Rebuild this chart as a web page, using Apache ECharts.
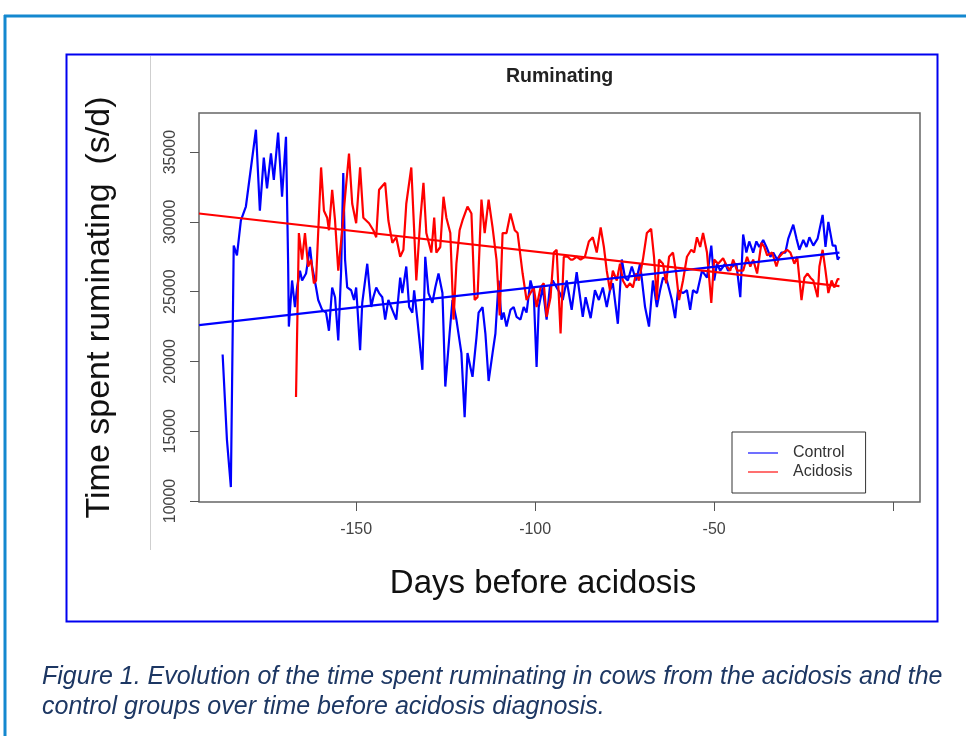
<!DOCTYPE html>
<html>
<head>
<meta charset="utf-8">
<script src="https://cdn.jsdelivr.net/npm/echarts@6/dist/echarts.min.js"></script>
<style>
  html, body { margin: 0; padding: 0; background: #fff; }
  #chart { width: 966px; height: 736px; }
</style>
</head>
<body>
<div id="chart"></div>
<script>
// 数据 (day, s/d)
var controlPoints = [
  [-187.3,20500],[-186.1,14400],[-185.0,11000],[-184.2,28300],[-183.3,27600],[-182.2,30100],[-180.8,31100],
  [-178.0,36600],[-176.9,30800],[-175.8,34600],[-174.9,32400],[-173.8,34900],[-173.0,33000],[-171.8,36400],
  [-170.7,31800],[-169.6,36100],[-169.0,27000],[-168.8,22500],[-167.9,25800],[-167.1,23900],[-166.5,25300],
  [-165.7,26500],[-165.1,25800],[-164.0,26300],[-162.9,28200],[-162.3,26800],[-161.2,25300],[-160.6,24400],
  [-159.5,23700],[-158.4,23500],[-157.6,22200],[-156.7,25300],[-155.9,24600],[-155.0,21500],[-154.2,26500],
  [-153.6,33500],[-153.1,27300],[-152.5,25300],[-151.4,25100],[-150.6,24400],[-150.0,25300],[-148.9,20800],
  [-148.3,24200],[-146.9,27000],[-145.8,23900],[-145.2,24600],[-144.4,25300],[-143.6,24900],[-142.7,24600],
  [-141.9,23000],[-141.0,24400],[-139.9,23700],[-138.8,23000],[-137.7,26000],[-137.1,24900],[-136.0,26800],
  [-135.2,23900],[-134.3,23500],[-133.8,25100],[-132.9,23000],[-131.5,19400],[-130.7,27500],[-129.8,24900],
  [-128.7,24200],[-127.9,25300],[-127.0,26300],[-125.9,24900],[-125.1,18200],[-123.9,22000],[-123.1,24400],
  [-122.0,23000],[-120.6,20600],[-119.7,16000],[-118.9,20600],[-118.1,19600],[-117.5,18900],[-116.4,21700],
  [-115.8,23500],[-114.7,23900],[-113.9,22000],[-113.0,18600],[-111.9,20600],[-111.1,22000],[-110.2,25800],
  [-109.4,23000],[-108.8,23500],[-108.0,22500],[-106.9,23700],[-106.0,23900],[-105.2,23200],[-104.1,23000],
  [-103.2,23900],[-102.4,23500],[-101.3,25800],[-100.4,24900],[-99.6,19600],[-99.0,23900],[-97.9,25300],
  [-96.8,23000],[-95.9,25300],[-95.1,25800],[-94.0,25300],[-93.1,24900],[-92.3,24400],[-91.2,25800],
  [-89.8,23700],[-88.4,26400],[-86.7,23200],[-85.9,24600],[-84.5,23100],[-83.3,25100],[-82.2,24400],
  [-81.1,25300],[-80.0,23900],[-79.1,25100],[-78.3,25600],[-76.9,22700],[-75.8,27300],[-74.9,26000],
  [-74.1,25800],[-73.0,26800],[-71.8,25800],[-70.7,27000],[-69.3,23900],[-68.2,22500],[-67.1,25800],
  [-66.0,23900],[-65.1,25100],[-64.3,26000],[-63.2,25800],[-61.8,24400],[-60.9,23100],[-60.1,25100],
  [-58.7,24900],[-57.6,25100],[-56.7,23700],[-55.9,25100],[-54.8,24900],[-53.4,26500],[-52.0,26000],
  [-50.8,28300],[-50.0,25800],[-49.2,27000],[-48.3,26500],[-46.9,27000],[-46.1,26500],[-45.0,26800],
  [-43.8,27000],[-42.7,24600],[-41.9,29100],[-41.0,27800],[-40.2,28600],[-39.1,27800],[-38.2,28600],
  [-37.4,28200],[-36.3,28700],[-35.4,28200],[-34.3,27500],[-33.5,27800],[-32.4,27300],[-31.2,27800],
  [-30.1,27800],[-29.3,28800],[-27.9,29800],[-27.0,28800],[-26.2,28000],[-25.1,28700],[-24.2,28200],
  [-23.4,28900],[-22.3,28300],[-21.1,28800],[-19.7,30500],[-18.9,28200],[-18.1,30000],[-16.9,28300],
  [-16.1,28300],[-15.5,27300],[-15.0,27500]
];

var acidosisPoints = [
  [-166.8,17450],[-166.0,29200],[-165.1,27300],[-164.3,29200],[-163.4,26800],[-162.6,27300],[-161.8,25600],
  [-161.2,25800],[-159.8,33900],[-159.0,30800],[-158.1,30300],[-157.6,29400],[-156.7,32300],[-155.9,30100],
  [-155.0,26500],[-153.9,29400],[-153.1,31800],[-152.0,34900],[-151.1,31300],[-150.0,29900],[-148.9,33900],
  [-148.0,30300],[-147.2,30100],[-146.4,29900],[-145.2,29400],[-144.4,28900],[-143.6,32300],[-141.9,32800],
  [-141.0,30100],[-139.9,28500],[-138.8,28900],[-137.7,27500],[-136.8,28000],[-136.0,31300],[-134.6,33900],
  [-133.8,29400],[-133.2,25800],[-132.1,30100],[-131.2,32800],[-130.4,29200],[-129.0,27800],[-128.2,30300],
  [-127.6,27800],[-126.5,28200],[-125.6,31800],[-124.8,30300],[-123.7,29200],[-122.8,23000],[-122.0,27000],
  [-121.1,29400],[-120.3,30100],[-118.9,31100],[-117.8,30600],[-116.9,24400],[-116.1,24600],[-115.0,31600],
  [-114.1,29200],[-113.0,31600],[-111.9,29600],[-110.8,27300],[-109.9,23300],[-109.1,29200],[-108.0,29200],
  [-106.9,30600],[-105.7,29400],[-104.9,29200],[-103.5,26300],[-102.4,24400],[-101.3,24900],[-100.4,25300],
  [-99.6,23900],[-98.5,25300],[-97.6,25600],[-96.8,23200],[-95.7,24600],[-94.8,27800],[-94.0,28000],
  [-92.9,22000],[-92.0,27500],[-90.9,27500],[-90.1,27300],[-89.5,27300],[-88.4,27500],[-87.3,27300],
  [-86.1,27500],[-85.0,28600],[-83.9,28900],[-82.8,27800],[-81.7,29600],[-80.8,28200],[-80.0,26500],
  [-79.1,25100],[-78.3,26500],[-77.2,25800],[-76.3,27000],[-75.5,25800],[-74.4,25300],[-73.5,25600],
  [-72.7,25300],[-71.8,26300],[-71.0,25800],[-69.9,27300],[-68.8,29200],[-67.6,29500],[-66.8,27500],
  [-66.0,24400],[-65.4,27300],[-64.3,27000],[-63.4,25600],[-62.6,27500],[-61.5,27800],[-60.6,26300],
  [-59.8,24400],[-58.7,25800],[-57.6,27500],[-56.4,28000],[-55.6,27800],[-54.8,28900],[-53.9,28200],
  [-53.1,29200],[-52.0,27800],[-50.8,24200],[-50.0,27300],[-48.9,27000],[-47.5,27400],[-46.4,26800],
  [-45.5,26500],[-44.7,27300],[-43.6,26500],[-42.7,26500],[-41.9,26500],[-40.8,27500],[-39.9,26800],
  [-39.1,27300],[-38.0,26300],[-36.8,28500],[-36.0,28200],[-35.2,27600],[-33.8,27800],[-32.6,26800],
  [-31.8,27500],[-30.7,27800],[-29.6,28000],[-28.7,27800],[-27.6,27000],[-26.8,27500],[-25.6,24400],
  [-24.8,26000],[-23.9,26300],[-23.1,26000],[-22.3,25800],[-21.1,24600],[-20.6,26800],[-19.7,28000],
  [-18.9,26500],[-18.1,24900],[-17.2,25800],[-16.4,25300],[-15.5,25900],[-15.0,25900]
];

// fitted lines
var controlTrend = [[-193.9, 22600], [-15.0, 27800]];
var acidosisTrend = [[-193.9, 30600], [-15.0, 25400]];

var yTicks = [10000, 15000, 20000, 25000, 30000, 35000];
var xTicks = [-150, -100, -50, 0];
var xLabels = [-150, -100, -50];

var FONT = 'Liberation Sans, Arial, Helvetica, sans-serif';

var chart = echarts.init(document.getElementById('chart'), null, { renderer: 'canvas' });

var option = {
  animation: false,
  backgroundColor: '#ffffff',
  title: {
    text: 'Ruminating',
    left: 501,
    top: 62,
    textStyle: { fontFamily: FONT, fontSize: 19.5, fontWeight: 'bold', color: '#222' }
  },
  legend: {
    orient: 'vertical',
    left: 732,
    top: 432,
    padding: [13, 13, 13, 16],
    itemGap: 3,
    itemWidth: 30,
    itemHeight: 2,
    icon: 'rect',
    borderColor: '#333',
    borderWidth: 1,
    textStyle: { fontFamily: FONT, fontSize: 16, color: '#333', padding: [0, 0, 0, 10] },
    data: [
      { name: 'Control', itemStyle: { color: '#7070ff' } },
      { name: 'Acidosis', itemStyle: { color: '#ff7070' } }
    ]
  },
  grid: {
    left: 199, top: 113, width: 721, height: 389,
    show: true, borderColor: '#666', borderWidth: 1.5, backgroundColor: 'transparent'
  },
  xAxis: {
    type: 'value',
    min: -193.9,
    max: 7.5,
    name: 'Days before acidosis',
    nameLocation: 'middle',
    nameGap: 65,
    nameTextStyle: { fontFamily: FONT, fontSize: 33, color: '#111', padding: [0, 33, 0, 0] },
    axisLine: { show: false, onZero: false },
    splitLine: { show: false },
    axisTick: { show: true, length: 9, customValues: xTicks, lineStyle: { color: '#555' } },
    axisLabel: { customValues: xLabels, margin: 20, fontFamily: FONT, fontSize: 16, color: '#444' }
  },
  yAxis: {
    type: 'value',
    min: 9930,
    max: 37800,
    name: 'Time spent ruminating  (s/d)',
    nameLocation: 'middle',
    nameRotate: 90,
    nameGap: 82,
    nameTextStyle: { fontFamily: FONT, fontSize: 34, color: '#111' },
    axisLine: { show: false, onZero: false },
    splitLine: { show: false },
    axisTick: { show: true, length: 9, customValues: yTicks, lineStyle: { color: '#555' } },
    axisLabel: {
      customValues: yTicks, rotate: 90, margin: 20, fontFamily: FONT, fontSize: 16, color: '#444',
      formatter: function (v) { return String(v); }
    }
  },
  series: [
    {
      name: 'Control', type: 'line', data: controlPoints, showSymbol: false,
      lineStyle: { color: '#0000ff', width: 2.2 }, itemStyle: { color: '#0000ff' }
    },
    {
      name: 'Acidosis', type: 'line', data: acidosisPoints, showSymbol: false,
      lineStyle: { color: '#ff0000', width: 2.2 }, itemStyle: { color: '#ff0000' }
    },
    {
      name: 'Control fit', type: 'line', data: controlTrend, showSymbol: false,
      lineStyle: { color: '#0000ff', width: 2.2 }
    },
    {
      name: 'Acidosis fit', type: 'line', data: acidosisTrend, showSymbol: false,
      lineStyle: { color: '#ff0000', width: 2.2 }
    }
  ],
  graphic: [
    // outer frame
    { type: 'line', shape: { x1: 4, y1: 16, x2: 966, y2: 16 }, style: { stroke: '#1488cf', lineWidth: 3 } },
    { type: 'line', shape: { x1: 5, y1: 15, x2: 5, y2: 736 }, style: { stroke: '#1488cf', lineWidth: 3 } },
    // figure box
    { type: 'rect', shape: { x: 66.5, y: 54.5, width: 871, height: 567 }, style: { fill: 'none', stroke: '#0000f0', lineWidth: 2 } },
    { type: 'line', shape: { x1: 150.5, y1: 56, x2: 150.5, y2: 550 }, style: { stroke: '#cfcfcf', lineWidth: 1 } },
    // caption
    {
      type: 'text', left: 42, top: 662,
      style: {
        text: 'Figure 1. Evolution of the time spent ruminating in cows from the acidosis and the\ncontrol groups over time before acidosis diagnosis.',
        font: 'italic 25px ' + FONT, fill: '#1d3763', lineHeight: 30
      }
    }
  ]
};

chart.setOption(option);
</script>
</body>
</html>
